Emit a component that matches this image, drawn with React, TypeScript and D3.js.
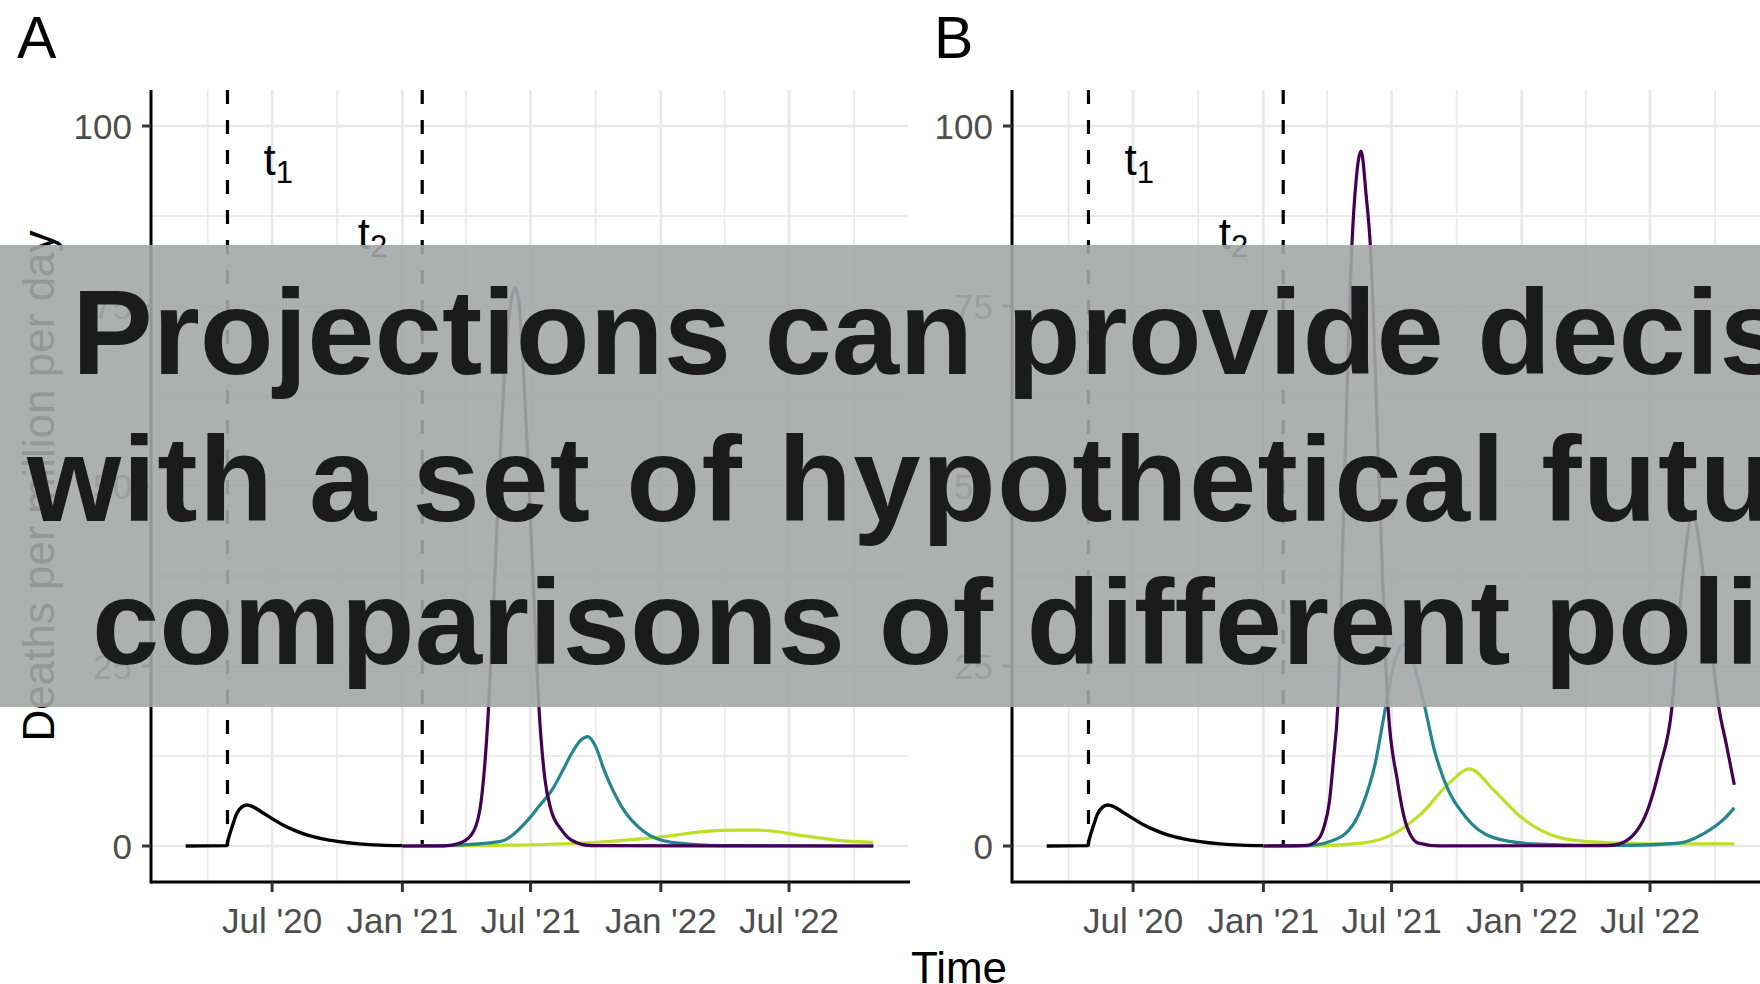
import * as React from 'react';
import * as d3 from 'd3';

type Pt = [string, number];

// observed deaths per million per day (same in both panels)
const observed: Pt[] = [
  ['2020-03-01', 0], ['2020-04-28', 0.05], ['2020-04-30', 0.9], ['2020-05-06', 2.8],
  ['2020-05-12', 4.5], ['2020-05-19', 5.4], ['2020-05-26', 5.7], ['2020-06-03', 5.5],
  ['2020-06-15', 4.8], ['2020-07-01', 3.8], ['2020-07-15', 3.0], ['2020-08-01', 2.2],
  ['2020-08-20', 1.5], ['2020-09-10', 1.0], ['2020-10-01', 0.65], ['2020-11-01', 0.3],
  ['2020-12-01', 0.12], ['2021-01-01', 0.05],
];

// panel A projections
const purpleA: Pt[] = [
  ['2021-01-01', 0], ['2021-03-01', 0.02], ['2021-03-20', 0.3], ['2021-04-08', 1.5],
  ['2021-04-20', 4.8], ['2021-05-02', 18], ['2021-05-10', 34], ['2021-05-18', 52],
  ['2021-05-26', 67], ['2021-06-04', 76], ['2021-06-09', 77.5], ['2021-06-14', 76],
  ['2021-06-21', 66], ['2021-06-28', 52], ['2021-07-06', 34], ['2021-07-13', 19],
  ['2021-07-21', 9.5], ['2021-07-30', 5], ['2021-08-14', 2.2], ['2021-08-28', 0.8],
  ['2021-09-25', 0.05], ['2022-10-28', 0],
];
const tealA: Pt[] = [
  ['2021-01-01', 0], ['2021-03-14', 0.1], ['2021-05-18', 0.6], ['2021-06-28', 3.7],
  ['2021-07-12', 5.4], ['2021-08-01', 7.9], ['2021-08-16', 10.6], ['2021-08-26', 12.5],
  ['2021-09-10', 14.7], ['2021-09-20', 15.2], ['2021-10-01', 13.8], ['2021-10-13', 10.5],
  ['2021-10-25', 7.8], ['2021-11-07', 5.4], ['2021-12-08', 2.0], ['2022-01-16', 0.5],
  ['2022-03-28', 0.05], ['2022-10-28', 0],
];
const yellowA: Pt[] = [
  ['2021-01-01', 0], ['2021-05-18', 0.1], ['2021-09-20', 0.45], ['2022-01-14', 1.4],
  ['2022-03-01', 2.0], ['2022-04-20', 2.2], ['2022-05-18', 2.2], ['2022-07-23', 1.4],
  ['2022-09-12', 0.75], ['2022-10-28', 0.5],
];

// panel B projections
const purpleB: Pt[] = [
  ['2021-01-01', 0], ['2021-03-04', 0.1], ['2021-03-20', 1.0], ['2021-03-28', 2.8],
  ['2021-04-04', 6], ['2021-04-10', 12], ['2021-04-16', 19.3], ['2021-04-25', 49],
  ['2021-05-06', 83.5], ['2021-05-12', 92.5], ['2021-05-19', 96.5], ['2021-05-26', 90.5],
  ['2021-06-01', 83.5], ['2021-06-14', 49], ['2021-06-26', 19.3], ['2021-07-09', 9.2],
  ['2021-07-21', 3.2], ['2021-08-08', 0.4], ['2021-09-06', 0.02], ['2022-05-01', 0.05],
  ['2022-05-19', 0.3], ['2022-06-21', 3.5], ['2022-07-15', 11], ['2022-08-01', 19.3],
  ['2022-08-12', 32.8], ['2022-08-30', 46], ['2022-09-20', 32.8], ['2022-10-06', 19.3],
  ['2022-10-17', 14], ['2022-10-28', 8.5],
];
const tealB: Pt[] = [
  ['2021-01-01', 0], ['2021-03-04', 0.05], ['2021-04-19', 1.2], ['2021-05-20', 5.4],
  ['2021-06-08', 11.5], ['2021-06-22', 19], ['2021-07-05', 25.5], ['2021-07-19', 28],
  ['2021-08-02', 25], ['2021-08-17', 19.3], ['2021-08-30', 13.5], ['2021-09-13', 9.2],
  ['2021-10-14', 4.0], ['2021-11-21', 1.2], ['2022-01-15', 0.3], ['2022-04-01', 0.1],
  ['2022-06-01', 0.1], ['2022-08-10', 0.4], ['2022-09-16', 1.8], ['2022-10-14', 3.8],
  ['2022-10-28', 5.3],
];
const yellowB: Pt[] = [
  ['2021-01-01', 0], ['2021-03-04', 0.02], ['2021-05-20', 0.4], ['2021-07-06', 1.8],
  ['2021-08-13', 4.6], ['2021-09-21', 8.8], ['2021-10-19', 10.7], ['2021-11-22', 7.8],
  ['2021-12-31', 4.0], ['2022-02-22', 1.2], ['2022-04-06', 0.6], ['2022-06-21', 0.3],
  ['2022-10-28', 0.3],
];

const scenarioColors = ['#BDDF26', '#25858E', '#440154'];
const panelLetters = ['A', 'B'];
const yTicks = [0, 25, 50, 75, 100];
const yMinor = [12.5, 37.5, 62.5, 87.5];
const cutDates = ['2020-04-29', '2021-01-29'];
const cutLabels: { sub: string; date: string; value: number }[] = [
  { sub: '1', date: '2020-06-19', value: 93.2 },
  { sub: '2', date: '2020-10-30', value: 82.9 },
];
const headline = [
  'Projections can provide decision makers',
  'with a set of hypothetical futures, allowing',
  'comparisons of different policies',
];

const W = 1760;
const H = 984;
const FONT = '"Liberation Sans", Arial, Helvetica, sans-serif';
const parse = d3.timeParse('%Y-%m-%d');
const fmt = d3.timeFormat("%b '%y");

const Panel = ({ ox, letter, lines }: { ox: number; letter: string; lines: Pt[][] }) => {
  const x = d3.scaleTime()
    .domain([parse('2020-01-12')!, parse('2022-12-16')!])
    .range([151 + ox, 908 + ox]);
  const y = d3.scaleLinear().domain([-5, 105]).range([882, 90]);
  const [x0, x1] = x.range();
  const [yb, yt] = y.range();
  const majors = x.ticks(d3.timeMonth.every(6)!);
  const minors = x.ticks(d3.timeMonth.every(3)!).filter(d => d.getMonth() % 6 !== 0);
  const line = d3.line<Pt>()
    .x(d => x(parse(d[0])!))
    .y(d => y(d[1]))
    .curve(d3.curveMonotoneX);

  return (
    <g>
      <text x={ox === 0 ? 17 : 934} y={58} fontSize={59} fontFamily={FONT} fill="#000">{letter}</text>
      {/* grid */}
      {yMinor.map(v => <line key={'ym' + v} x1={x0} x2={x1} y1={y(v)} y2={y(v)} stroke="#EAEAEA" strokeWidth={1.8} />)}
      {minors.map(d => <line key={'xm' + d.getTime()} x1={x(d)} x2={x(d)} y1={yb} y2={yt} stroke="#EAEAEA" strokeWidth={1.8} />)}
      {yTicks.map(v => <line key={'yg' + v} x1={x0} x2={x1} y1={y(v)} y2={y(v)} stroke="#E8E8E8" strokeWidth={2.6} />)}
      {majors.map(d => <line key={'xg' + d.getTime()} x1={x(d)} x2={x(d)} y1={yb} y2={yt} stroke="#E8E8E8" strokeWidth={2.6} />)}
      {/* cutoff dates */}
      {cutDates.map(c => (
        <line key={c} x1={x(parse(c)!)} x2={x(parse(c)!)} y1={y(105)} y2={y(0)}
          stroke="#000" strokeWidth={3.2} strokeDasharray="14 16" />
      ))}
      {cutLabels.map(l => (
        <text key={l.sub} x={x(parse(l.date)!)} y={y(l.value)} fontSize={44} fontFamily={FONT} fill="#000">
          t<tspan dy={8} fontSize={31}>{l.sub}</tspan>
        </text>
      ))}
      {/* series */}
      <path d={line(observed)!} fill="none" stroke="#000" strokeWidth={3.4} strokeLinejoin="round" />
      {lines.map((s, i) => (
        <path key={i} d={line(s)!} fill="none" stroke={scenarioColors[i]} strokeWidth={3.2} strokeLinejoin="round" />
      ))}
      {/* axes */}
      <line x1={x0} x2={x1 + 2} y1={yb} y2={yb} stroke="#000" strokeWidth={3} />
      <line x1={x0} x2={x0} y1={yb + 1.5} y2={yt} stroke="#000" strokeWidth={3} />
      {yTicks.map(v => (
        <g key={'yt' + v}>
          <line x1={x0 - 9} x2={x0} y1={y(v)} y2={y(v)} stroke="#333" strokeWidth={3} />
          <text x={x0 - 19} y={y(v)} dy="0.36em" textAnchor="end" fontSize={35} fontFamily={FONT} fill="#4D4D4D">{v}</text>
        </g>
      ))}
      {majors.map(d => (
        <g key={'xt' + d.getTime()}>
          <line x1={x(d)} x2={x(d)} y1={yb} y2={yb + 10} stroke="#333" strokeWidth={3} />
          <text x={x(d)} y={933} textAnchor="middle" fontSize={35} fontFamily={FONT} fill="#4D4D4D">{fmt(d)}</text>
        </g>
      ))}
    </g>
  );
};

export default function App() {
  const seriesA = [yellowA, tealA, purpleA];
  const seriesB = [yellowB, tealB, purpleB];
  return (
    <div>
      <style>{'body{margin:0;background:#fff}'}</style>
      <svg width={W} height={H} style={{ display: 'block' }}>
        <rect width={W} height={H} fill="#fff" />
        <Panel ox={0} letter={panelLetters[0]} lines={seriesA} />
        <Panel ox={861} letter={panelLetters[1]} lines={seriesB} />
        <text transform="translate(54,486) rotate(-90)" textAnchor="middle" fontSize={44} fontFamily={FONT} fill="#000">
          Deaths per million per day
        </text>
        <text x={959} y={983} textAnchor="middle" fontSize={44} fontFamily={FONT} fill="#000">Time</text>
        {/* banner */}
        <rect x={0} y={245} width={W} height={462} fill="rgb(163,167,165)" opacity={0.9} />
        <g fontFamily={FONT} fontWeight="bold" fontSize={121} fill="#1B1B1B">
          <text x={72} y={374}>{headline[0]}</text>
          <text x={27} y={521} letterSpacing={1.3}>{headline[1]}</text>
          <text x={92} y={664}>{headline[2]}</text>
        </g>
      </svg>
    </div>
  );
}
